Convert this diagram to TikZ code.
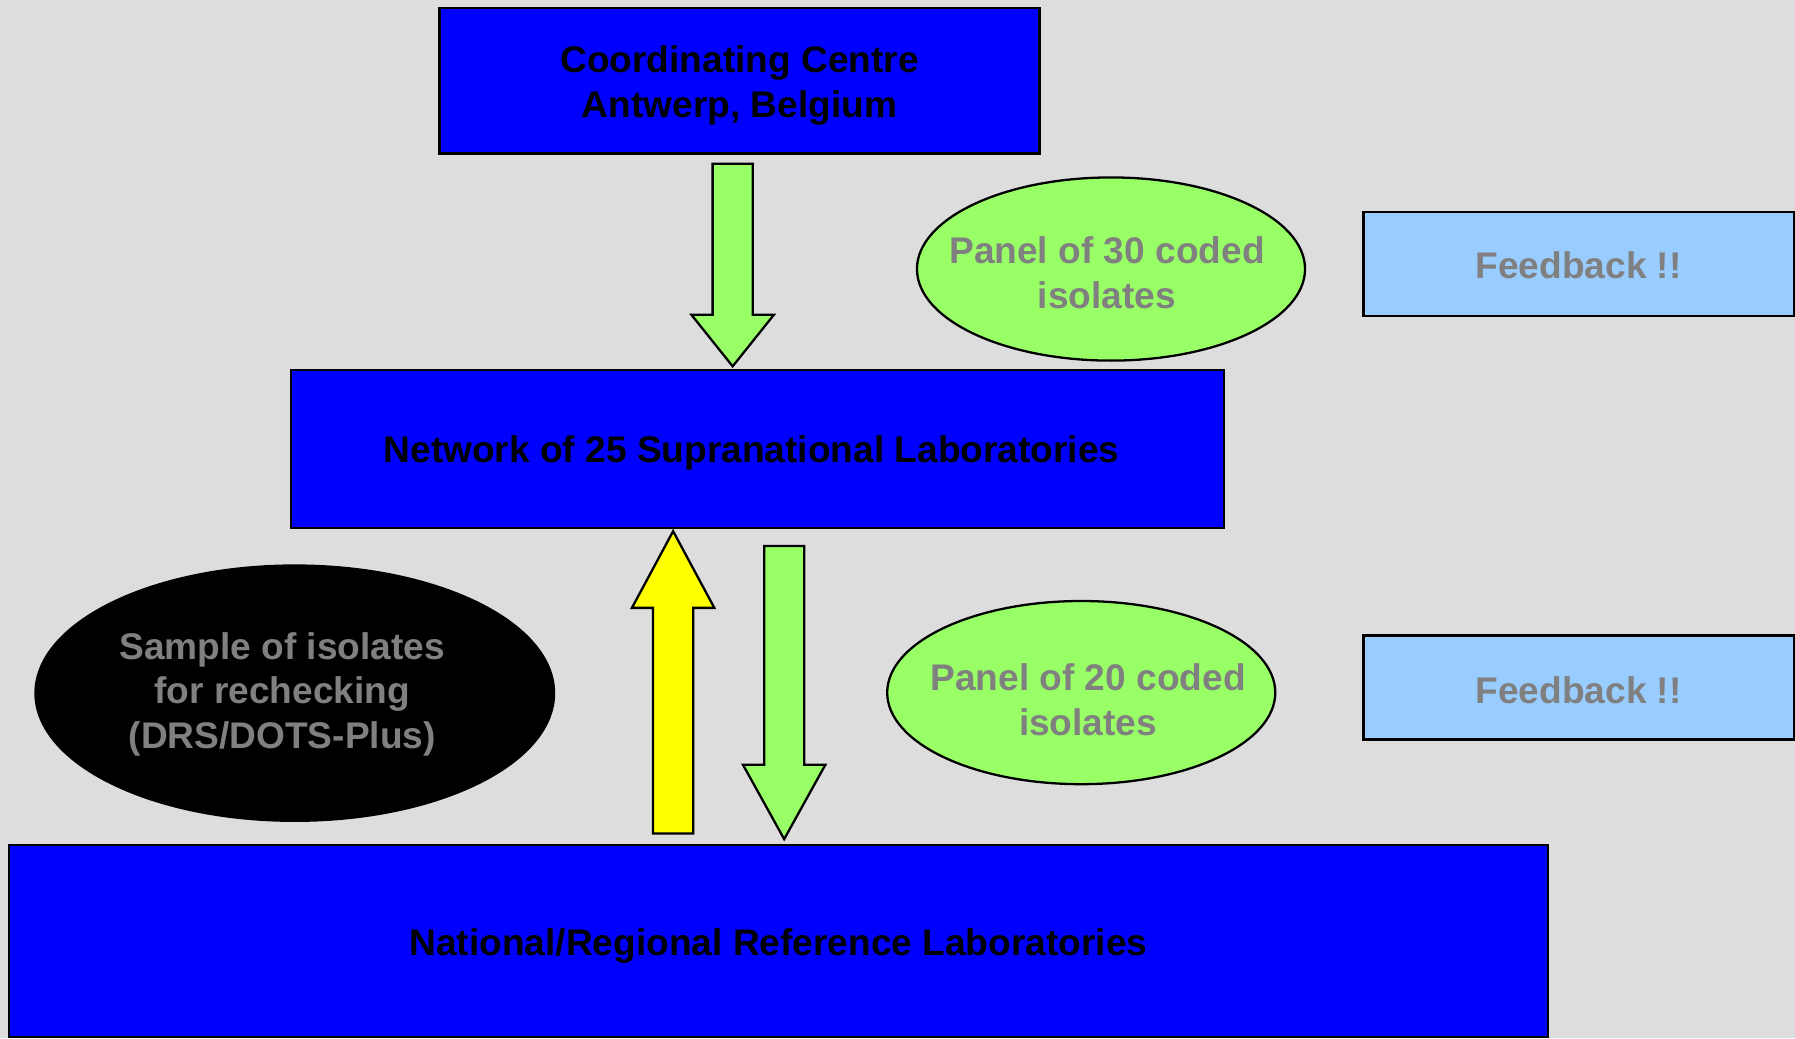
\documentclass[tikz,border=0pt]{standalone}
\usepackage{fontspec}
\setmainfont{Liberation Sans}
\usetikzlibrary{shapes.geometric,calc}
\definecolor{bgc}{HTML}{DDDDDD}
\definecolor{boxblue}{HTML}{0000FF}
\definecolor{lgreen}{HTML}{99FF66}
\definecolor{ayellow}{HTML}{FFFF00}
\definecolor{lblue}{HTML}{99CCFF}
\definecolor{gtext}{HTML}{808080}
\newcommand\dfont{\fontsize{32.4pt}{39pt}\selectfont\bfseries}
\newcommand\tp[1]{\rule{0pt}{#1}}
% #1 start, #2 end (tip), #3 colour, #4 direction (1 down, -1 up), #5 head length
\newcommand\blockarrow[5]{%
  \draw[arrline, fill=#3]
    ($(#1)+(-17.5,0)$) -- ($(#2)+(-17.5,{-1*(#4)*(#5)})$) -- ($(#2)+(-36,{-1*(#4)*(#5)})$)
    -- (#2) -- ($(#2)+(36,{-1*(#4)*(#5)})$) -- ($(#2)+(17.5,{-1*(#4)*(#5)})$)
    -- ($(#1)+(17.5,0)$) -- cycle;}
\begin{document}
\begin{tikzpicture}[x=1pt,y=-1pt,
  box/.style={draw=black, line width=2pt, fill=boxblue, rectangle, inner sep=0pt,
    align=center, font=\dfont, text=black},
  fbox/.style={draw=black, line width=2pt, fill=lblue, rectangle, inner sep=0pt,
    align=center, font=\dfont, text=gtext, minimum width=376pt, minimum height=91pt},
  gell/.style={draw=black, line width=2pt, fill=lgreen, ellipse, inner ysep=0pt, inner xsep=-26pt,
    align=center, font=\dfont, text=gtext, minimum width=339pt, minimum height=160pt},
  bell/.style={draw=black, line width=2pt, fill=black, ellipse, inner sep=0pt,
    align=center, font=\dfont, text=gtext, minimum width=453pt, minimum height=223pt},
  arrline/.style={draw=black, line width=2pt, line join=miter}]
\fill[bgc] (0,0) rectangle (1568,907);
\useasboundingbox (0,0) rectangle (1568,907);

\node[box, minimum width=524pt, minimum height=127pt] (coord) at (646,70.5)
  {\tp{31.6pt}Coordinating Centre\\Antwerp, Belgium};
\node[box, minimum width=815pt, minimum height=138pt] (net) at (661.5,392)
  {\tp{31.6pt}Network of 25 Supranational Laboratories\kern10pt};
\node[box, minimum width=1344pt, minimum height=168pt] (nat) at (680,822)
  {\tp{31.6pt}National/Regional Reference Laboratories};

\node[gell] (p30) at (970.5,235) {\tp{29.6pt}Panel of 30 coded\kern7pt\\isolates\kern7pt};
\node[fbox] (fb1) at (1379,230.5) {\tp{25.6pt}Feedback !!};
\node[gell] (p20) at (944.5,605) {\kern12pt\tp{35.6pt}Panel of 20 coded\\\kern12pt isolates};
\node[fbox] (fb2) at (1379,600.5) {\tp{27.6pt}Feedback !!};
\node[bell] (samp) at (257.5,605.5)
  {\tp{25.6pt}Sample of isolates\kern22pt\\for rechecking\kern22pt\\(DRS/DOTS-Plus)\kern22pt};

\coordinate (a1s) at ($(640,0 |- coord.south)+(0,8)$);
\coordinate (a1e) at ($(640,0 |- net.north)+(0,-2)$);
\coordinate (a2s) at ($(588,0 |- nat.north)+(0,-9)$);
\coordinate (a2e) at ($(588,0 |- net.south)+(0,2)$);
\coordinate (a3s) at ($(685,0 |- net.south)+(0,15)$);
\coordinate (a3e) at ($(685,0 |- nat.north)+(0,-4)$);

\blockarrow{a1s}{a1e}{lgreen}{1}{45}
\blockarrow{a2s}{a2e}{ayellow}{-1}{67}
\blockarrow{a3s}{a3e}{lgreen}{1}{65}
\end{tikzpicture}
\end{document}
